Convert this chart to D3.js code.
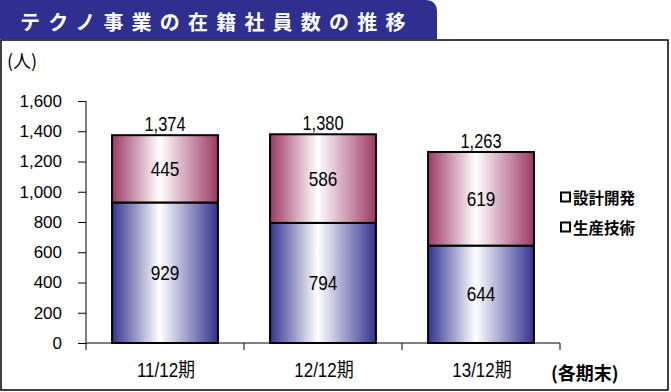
<!DOCTYPE html>
<html><head><meta charset="utf-8">
<script src="https://cdn.jsdelivr.net/npm/d3@7"></script>
<style>
body{margin:0;background:#fff;}
svg{display:block;}
</style></head>
<body>
<svg id="c" width="671" height="392"></svg>
<script>
const titleText = "テクノ事業の在籍社員数の推移";
const categories = ["11/12期", "12/12期", "13/12期"];
const seriesNames = ["設計開発", "生産技術"];
const production = [929, 794, 644];   // 生産技術 (bottom)
const design = [445, 586, 619];       // 設計開発 (top)
const totals = [1374, 1380, 1263];
const yTicks = [0, 200, 400, 600, 800, 1000, 1200, 1400, 1600];
const yUnit = "(人)";
const xNote = "(各期末)";

const svg = d3.select("#c");
const defs = svg.append("defs");
function grad(id, edge){
  const g = defs.append("linearGradient").attr("id", id).attr("x1","0").attr("x2","1").attr("y1","0").attr("y2","0");
  g.append("stop").attr("offset","0").attr("stop-color", edge);
  g.append("stop").attr("offset","0.45").attr("stop-color", "#ffffff");
  g.append("stop").attr("offset","1").attr("stop-color", edge);
}
grad("gBlue", "#33338f");
grad("gRed", "#9c3a64");

// frame
svg.append("rect").attr("x",1).attr("y",40).attr("width",667).attr("height",350)
  .attr("fill","#fff").attr("stroke","#000").attr("stroke-width",1.5);

// title banner with rounded top-right corner
const bw = 437, bh = 39, r = 12;
svg.append("path")
  .attr("d", `M0,0 H${bw-r} Q${bw},0 ${bw},${r} V${bh} H0 Z`)
  .attr("fill", "#2e2f8f");
svg.append("text").attr("x", 20).attr("y", 21).attr("dominant-baseline","central")
  .attr("fill","#fff").attr("font-family","'Noto Sans CJK JP'").attr("font-weight","bold")
  .attr("font-size", 20).attr("letter-spacing", 8.2).text(titleText);

const y = d3.scaleLinear().domain([0, 1600]).range([343, 101]);
const x = d3.scaleBand().domain(categories).range([86, 560]).paddingInner(0.33).paddingOuter(0.165);

// y axis
const yAxis = svg.append("g").attr("transform","translate(86,0)")
  .call(d3.axisLeft(y).tickValues(yTicks).tickSize(8).tickPadding(16).tickFormat(d3.format(",")));
yAxis.select(".domain").attr("stroke","#000").attr("stroke-width",1).attr("d","M0,101V343");
yAxis.selectAll(".tick line").attr("stroke","#000");
yAxis.selectAll("text").attr("font-family","'Liberation Sans', Arial, sans-serif").attr("font-size",17).attr("fill","#000");

// x axis line and boundary ticks
const bounds = [0,1,2,3].map(i => 86 + i * (560-86)/3);
svg.append("line").attr("x1",86).attr("x2",560).attr("y1",343).attr("y2",343).attr("stroke","#000");
svg.selectAll(".xt").data(bounds).enter().append("line")
  .attr("x1",d=>d).attr("x2",d=>d).attr("y1",343).attr("y2",350).attr("stroke","#000");

// condensed text helper
const fnt = "'Liberation Sans',Arial,'Noto Sans CJK JP',sans-serif";
function ctext(parent, cx, cy, str, size, sx){
  parent.append("g").attr("transform",`translate(${cx},${cy}) scale(${sx},1)`)
    .append("text").attr("text-anchor","middle").attr("dominant-baseline","central")
    .attr("font-family",fnt).attr("font-size",size).attr("fill","#000").text(str);
}

// bars
const g = svg.append("g");
categories.forEach((c,i)=>{
  const bx = x(c), w = x.bandwidth();
  g.append("rect").attr("x",bx).attr("width",w).attr("y",y(production[i])).attr("height",y(0)-y(production[i]))
    .attr("fill","url(#gBlue)").attr("stroke","#000").attr("stroke-width",2);
  g.append("rect").attr("x",bx).attr("width",w).attr("y",y(production[i]+design[i])).attr("height",y(production[i])-y(production[i]+design[i]))
    .attr("fill","url(#gRed)").attr("stroke","#000").attr("stroke-width",2);
  const cx = bx + w/2;
  ctext(g, cx, (y(0)+y(production[i]))/2, d3.format(",")(production[i]), 21, 0.82);
  ctext(g, cx, (y(production[i])+y(production[i]+design[i]))/2, d3.format(",")(design[i]), 21, 0.82);
  ctext(g, cx, y(totals[i])-11, d3.format(",")(totals[i]), 20, 0.82);
  ctext(g, cx+1, 370, c, 20, 0.85);
});

// unit labels
svg.append("text").attr("x",7).attr("y",60).attr("dominant-baseline","central")
  .attr("font-family","'Noto Sans CJK JP'").attr("font-size",18).text(yUnit);
svg.append("text").attr("x",551).attr("y",372).attr("dominant-baseline","central")
  .attr("font-family","'Noto Sans CJK JP'").attr("font-weight","bold").attr("font-size",18).text(xNote);

// legend
seriesNames.forEach((n,i)=>{
  const ly = 197 + i*30;
  svg.append("rect").attr("x",561).attr("y",ly-4.5).attr("width",9).attr("height",9)
    .attr("fill","#fff").attr("stroke","#000").attr("stroke-width",2);
  svg.append("text").attr("x",573).attr("y",ly).attr("dominant-baseline","central")
    .attr("font-family","'Noto Sans CJK JP'").attr("font-weight","bold").attr("font-size",15.5).text(n);
});
</script>
</body></html>
